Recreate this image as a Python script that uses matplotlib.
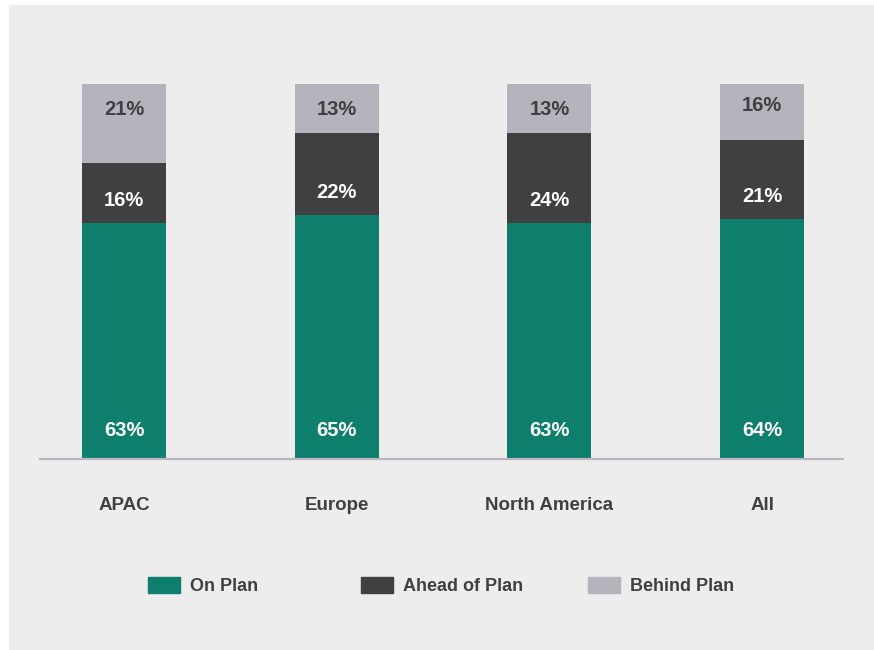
import numpy as np
import matplotlib.pyplot as plt
from matplotlib.patches import Rectangle, Patch

plt.rcParams['font.family'] = ['Liberation Sans', 'DejaVu Sans']
plt.rcParams['font.weight'] = 'bold'

categories = ['APAC', 'Europe', 'North America', 'All']
on_plan = [63, 65, 63, 64]
ahead_of_plan = [16, 22, 24, 21]
behind_plan = [21, 13, 13, 16]
series_names = ['On Plan', 'Ahead of Plan', 'Behind Plan']

green = '#0e7f6c'
dark = '#404040'
light = '#b4b4bc'
panel = '#ededed'

fig = plt.figure(figsize=(8.74, 6.5), dpi=100)
fig.patch.set_facecolor('white')
fig.patches.append(Rectangle((9 / 874, 0), 865 / 874, 645 / 650,
                             transform=fig.transFigure, color=panel, zorder=-10))

ax = fig.add_axes([40 / 874, 191 / 650, 803 / 874, 375 / 650])
ax.set_facecolor('none')

x = np.arange(len(categories))
w = 0.395
on = np.array(on_plan)
ah = np.array(ahead_of_plan)
be = np.array(behind_plan)

ax.bar(x, on, w, color=green, zorder=2)
ax.bar(x, ah, w, bottom=on, color=dark, zorder=2)
ax.bar(x, be, w, bottom=on + ah, color=light, zorder=2)

# labels: bottom of green, lower part of dark, top of grey
for i in range(len(categories)):
    ax.text(x[i], 7.6, f'{on[i]}%', ha='center', va='center', color='white',
            fontsize=14.5, fontweight='bold', zorder=3)
    ax.text(x[i], on[i] + 6.0, f'{ah[i]}%', ha='center', va='center', color='white',
            fontsize=14.5, fontweight='bold', zorder=3)
    ax.text(x[i], on[i] + ah[i] + be[i] - 6.8, f'{be[i]}%', ha='center', va='center',
            color=dark, fontsize=14.5, fontweight='bold', zorder=3)

ax.set_xlim(-0.395, 3.38)
ax.set_ylim(0, 100)
ax.set_yticks([])
ax.set_xticks(x)
ax.set_xticklabels(categories, fontsize=13.5, fontweight='bold', color=dark)
ax.tick_params(axis='x', length=0, pad=27)
for s in ['top', 'left', 'right']:
    ax.spines[s].set_visible(False)
ax.spines['bottom'].set_color('#b9b8c0')
ax.spines['bottom'].set_linewidth(1.6)

colors = [green, dark, light]
starts = [148, 361, 588]
for name, c, sx in zip(series_names, colors, starts):
    fig.legend(handles=[Patch(color=c, label=name)], loc='center left',
               bbox_to_anchor=(sx / 874, 1 - 586 / 650), frameon=False,
               borderpad=0, borderaxespad=0, handlelength=1.78, handleheight=1.0,
               handletextpad=0.55, prop={'size': 13, 'weight': 'bold'},
               labelcolor=dark)

fig.savefig('out.png', dpi=100)
